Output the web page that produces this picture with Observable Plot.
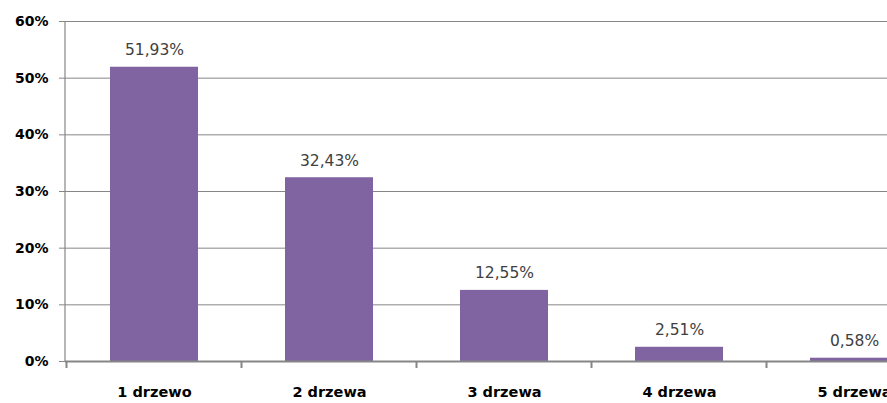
<!DOCTYPE html>
<html>
<head>
<meta charset="utf-8">
<script src="https://cdn.jsdelivr.net/npm/d3@7"></script>
<script src="https://cdn.jsdelivr.net/npm/@observablehq/plot@0.6"></script>
<style>
  html, body { margin: 0; padding: 0; background: #fff; overflow: hidden; }
  #chart svg { overflow: hidden; display: block; }
</style>
</head>
<body>
<div id="chart"></div>
<script>
// Share of plots by number of trees
const categories = ["1 drzewo", "2 drzewa", "3 drzewa", "4 drzewa", "5 drzewa"];
const shares = [51.93, 32.43, 12.55, 2.51, 0.58];
const yTicks = [0, 10, 20, 30, 40, 50, 60];

const data = categories.map((category, i) => ({category, share: shares[i]}));
const pct = v => v.toFixed(2).replace(".", ",") + "%";

const axisColor = "#868686";
const barColor = "#8064A2";

// Y axis line and tick marks at the category boundaries
function categoryFrame(index, scales, values, dims) {
  const x = scales.x, y = scales.y;
  const step = x.step(), bw = x.bandwidth();
  const g = d3.create("svg:g").attr("stroke", axisColor).attr("fill", "none");
  g.append("line")
    .attr("x1", dims.marginLeft).attr("x2", dims.marginLeft)
    .attr("y1", y(yTicks[yTicks.length - 1])).attr("y2", y(0))
    .attr("stroke-width", 1.2);
  for (const c of categories) {
    const bx = x(c) - (step - bw) / 2;
    g.append("line")
      .attr("x1", bx).attr("x2", bx)
      .attr("y1", y(0)).attr("y2", y(0) + 7)
      .attr("stroke-width", 2);
  }
  return g.node();
}

const chart = Plot.plot({
  width: 887,
  height: 403,
  marginLeft: 65,
  marginTop: 21,
  marginBottom: 42,
  marginRight: 0,
  style: {background: "#fff"},
  x: {domain: categories, range: [65, 943], paddingInner: 0.5, paddingOuter: 0.25, align: 0.5, axis: null, label: null},
  y: {domain: [0, 60], axis: null, label: null},
  marks: [
    Plot.gridY(yTicks.slice(1), {stroke: axisColor, strokeOpacity: 1, strokeWidth: 1}),
    Plot.barY(data, {x: "category", y: "share", fill: barColor}),
    Plot.ruleY([0], {stroke: axisColor, strokeWidth: 2}),
    categoryFrame,
    Plot.text(data, {
      x: "category", y: "share", text: d => pct(d.share),
      lineAnchor: "bottom", dy: -12,
      fill: "#404040", fontSize: 15.5, fontFamily: "DejaVu Sans"
    }),
    Plot.axisY(yTicks, {
      tickSize: 6, tickPadding: 11, stroke: axisColor, label: null,
      tickFormat: d => d + "%",
      fill: "#000", fontSize: 14, fontWeight: "bold", fontFamily: "DejaVu Sans"
    }),
    Plot.axisX({
      tickSize: 0, tickPadding: 25, label: null,
      fill: "#000", fontSize: 14.5, fontWeight: "bold", fontFamily: "DejaVu Sans"
    })
  ]
});

document.getElementById("chart").append(chart);
</script>
</body>
</html>
